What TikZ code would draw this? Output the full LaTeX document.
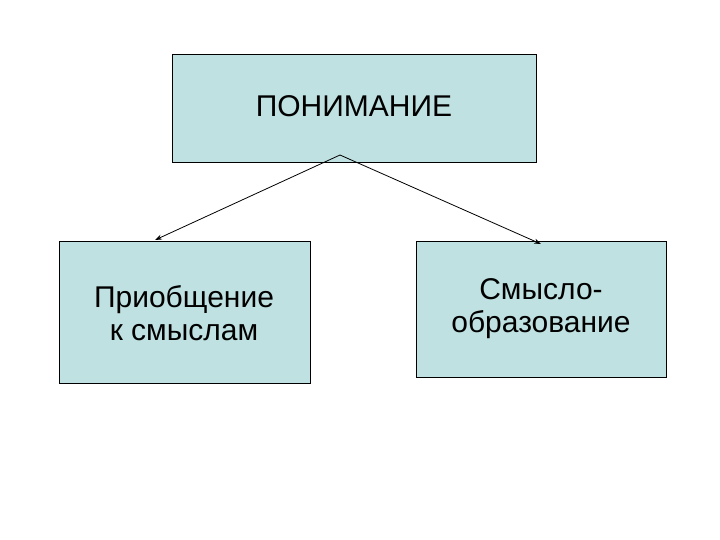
\documentclass[tikz,border=0pt]{standalone}
\usepackage{fontspec}
\setmainfont{Liberation Sans}
\usetikzlibrary{arrows.meta}
\begin{document}
\begin{tikzpicture}[x=1pt,y=-1pt,
  box/.style={draw=black,fill=boxc,line width=0.8pt},
  lbl/.style={font=\fontsize{30}{33}\selectfont,align=center},
  conn/.style={-{Stealth[length=7pt,width=5pt]},line width=0.8pt}]
\definecolor{boxc}{HTML}{BFE1E1}
\useasboundingbox (0,0) rectangle (720,540);
\draw[box] (172,54) rectangle (536,162);
\node[lbl] (top) at (354,106) {ПОНИМАНИЕ};
\draw[box] (59,241) rectangle (310,383);
\node[lbl] (l) at (184,313) {Приобщение\\к смыслам};
\draw[box] (416,241) rectangle (666,377);
\node[lbl] (r) at (541,309) {Смысло-\\образование};
\coordinate (s) at (340,155);
\coordinate (le) at (155,240);
\coordinate (re) at (541,244);
\draw[conn] (s) -- (le);
\draw[conn] (s) -- (re);
\end{tikzpicture}
\end{document}
